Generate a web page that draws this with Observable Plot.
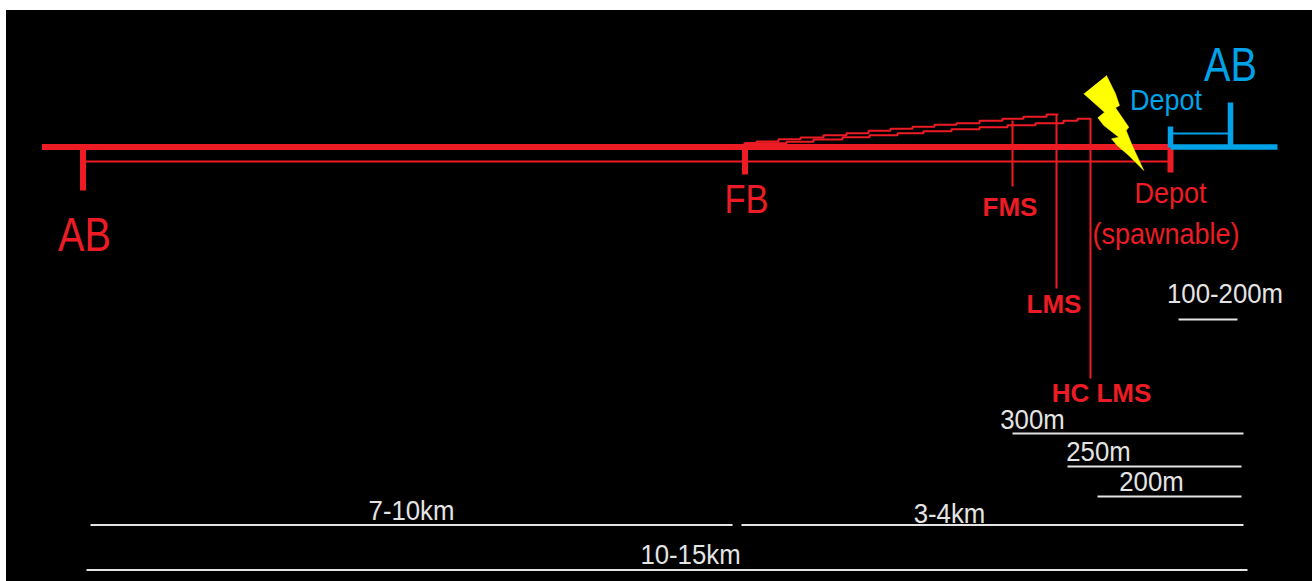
<!DOCTYPE html>
<html>
<head>
<meta charset="utf-8">
<style>html,body{margin:0;padding:0;background:#fff;overflow:hidden}svg{display:block}</style>
<script src="https://cdn.jsdelivr.net/npm/d3@7"></script>
<script src="https://cdn.jsdelivr.net/npm/@observablehq/plot@0.6"></script>
</head>
<body>
<div id="chart"></div>
<script>
const RED = "#ed1c24", BLUE = "#00a2e8", WHITE = "#e4e4e4", YELLOW = "#ffff00";

const background = [{x1: 6, x2: 1312, y1: 10, y2: 581}];

// [x1, y1, x2, y2]
const redThick = [[41.5,146.5,1170,146.5],[82.5,147,82.5,190],[744.5,147,744.5,174],[1170,147,1170,172]];
const redFill = [[743,144.5,786,144.5]];
const redThin = [[83,161,1170,161],[1012,120,1012,186],[1056,114,1056,288],[1090,118,1090,378]];
const blueThick = [[1170,146.5,1277,146.5],[1170,126,1170,147],[1230,102,1230,147]];
const blueThin = [[1170,133,1230,133]];
const whiteRules = [[1178,319,1237,319],[1012,433,1243,433],[1067,466,1241,466],[1097,496,1241,496],[90,524.5,732,524.5],[741,524.5,1243,524.5],[86,569.5,1247,569.5]];

const stairUpper = [[745,142.7],[756,141],[778,138.7],[800,137],[823,134.7],[846,132.7],[868,130.3],[890,128.3],[912,126.3],[934,124.3],[956,122.7],[979,120.3],[1002,118.3],[1023,116.3],[1046,114],[1057,114]];
const stairLower = [[745,143],[786,141.3],[813,139],[842,136.7],[869,134.7],[897,132.7],[923,130.7],[951,128.7],[979,126.7],[1007,124.7],[1035,122.7],[1063,120.3],[1077,118.3],[1090,118.3]];

const bolt = [[1106,75],[1115,93.3],[1119,105],[1115,107.3],[1128.3,126.7],[1125.7,130],[1131.7,145],[1143.3,170],[1128.3,155],[1116.7,145],[1111,138.3],[1118.3,136.7],[1103.3,125],[1097.3,117.3],[1104,111.7],[1083.3,93.3]];

const SANS = "'Liberation Sans',sans-serif";

// [text, x, y]
const bigRed = [["AB",84,235]];
const bigBlue = [["AB",1230,65]];
const fbLabel = [["FB",746,200]];
const depotBlue = [["Depot",1165.5,100]];
const depotRed = [["Depot",1170,193],["(spawnable)",1165.5,234]];
const boldRed = [["FMS",1009.5,207],["LMS",1053.5,304],["HC LMS",1101,393]];
const whiteLabels = [["100-200m",1224.5,294],["300m",1032,420],["250m",1098,452],["200m",1151,482],["7-10km",411,511],["3-4km",949,514],["10-15km",690,555]];

// horizontal squeeze per font size (the source text is set in a condensed face)
const squeezeBySize = {48: 0.825, 40: 0.86, 30: 0.9, 28: 0.92};

const rules = (rows, stroke, strokeWidth) => Plot.link(rows, {
  x1: d => d[0], y1: d => d[1], x2: d => d[2], y2: d => d[3], stroke, strokeWidth, strokeLinecap: "butt"
});
const labels = (rows, fill, fontSize, fontWeight = "normal") => Plot.text(rows, {
  text: d => d[0], x: d => d[1], y: d => d[2], fill, fontSize, fontFamily: SANS, fontWeight,
  textAnchor: "middle", lineAnchor: "middle"
});
const stairs = rows => Plot.line(rows, {x: d => d[0], y: d => d[1], curve: "step-after", stroke: RED, strokeWidth: 2, strokeLinejoin: "miter"});

const chart = Plot.plot({
  width: 1312, height: 581,
  marginTop: 0, marginRight: 0, marginBottom: 0, marginLeft: 0,
  x: {domain: [0, 1312], range: [0, 1312], axis: null},
  y: {domain: [0, 581], range: [0, 581], axis: null},
  style: {background: "#fff"},
  marks: [
    Plot.rect(background, {x1: "x1", x2: "x2", y1: "y1", y2: "y2", fill: "#000"}),
    rules(redThin, RED, 2),
    stairs(stairUpper),
    stairs(stairLower),
    rules(redFill, RED, 5),
    rules(redThick, RED, 6),
    rules(blueThick, BLUE, 5.5),
    rules(blueThin, BLUE, 2),
    Plot.line(bolt, {x: d => d[0], y: d => d[1], fill: YELLOW, stroke: YELLOW, strokeWidth: 0.5}),
    rules(whiteRules, WHITE, 2),
    labels(bigRed, RED, 48),
    labels(bigBlue, BLUE, 48),
    labels(fbLabel, RED, 40),
    labels(depotBlue, BLUE, 30),
    labels(depotRed, RED, 30),
    labels(boldRed, RED, 26, "bold"),
    labels(whiteLabels, WHITE, 28)
  ]
});
document.getElementById("chart").append(chart);

chart.querySelectorAll("text").forEach(t => {
  const ratio = squeezeBySize[parseFloat(getComputedStyle(t).fontSize)];
  if (ratio) {
    t.setAttribute("textLength", t.getComputedTextLength() * ratio);
    t.setAttribute("lengthAdjust", "spacingAndGlyphs");
  }
});
</script>
</body>
</html>
